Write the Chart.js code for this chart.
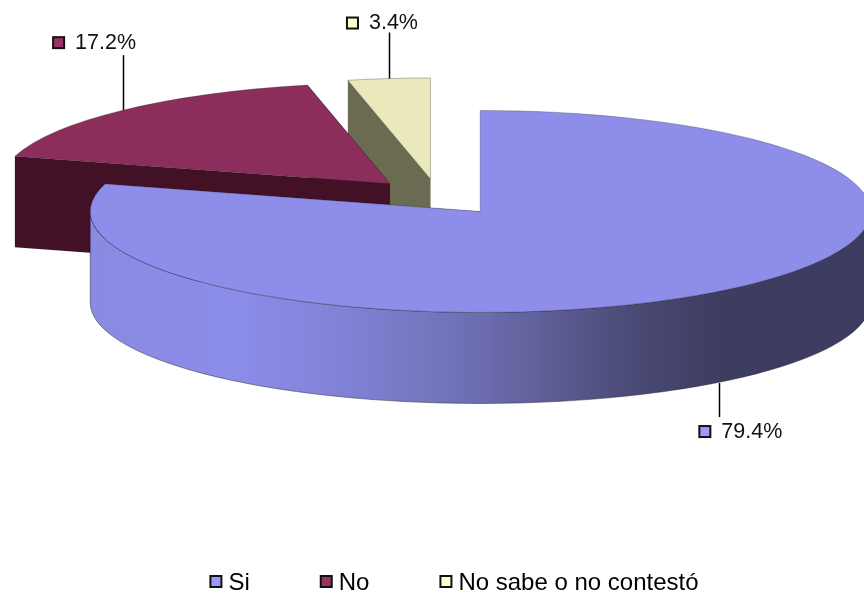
<!DOCTYPE html>
<html>
<head>
<meta charset="utf-8">
<style>
  html, body { margin: 0; padding: 0; background: #fff; }
  canvas { display: block; }
</style>
<script src="https://cdn.jsdelivr.net/npm/chart.js@4/dist/chart.umd.js"></script>
</head>
<body>
<canvas id="pie3d" width="864" height="595"></canvas>
<script>
var categories = ['Si', 'No', 'No sabe o no contestó'];
var percentages = [79.4, 17.2, 3.4];

var topColors = ['#8e8eea', '#8b2e5c', '#e9e9bb'];
var keyColors = ['#9999ff', '#993366', '#ffffcc'];
var wallColors = ['#8888e0', '#431126', '#6b6b52'];

// look of the tilted pie
var pieCenterX = 438;
var pieCenterY = 197;
var tilt = 0.259;
var depth = 91;
var explode = 70;
var fontName = '"Liberation Sans", Arial, sans-serif';

// leader length and where the text starts, relative to the leader end
var leaders = [
  { length: 34, dx: 4, textDx: 2, textDy: 15 },
  { length: 55, dx: 0, textDx: -48, textDy: -12 },
  { length: 46, dx: 0, textDx: -20, textDy: -9 }
];

function sliceCenter(arc) {
  var mid = (arc.startAngle + arc.endAngle) / 2;
  return {
    x: pieCenterX + explode * Math.cos(mid),
    y: pieCenterY + explode * Math.sin(mid) * tilt
  };
}

function drawWall(ctx, arc, fill) {
  var c = sliceCenter(arc);
  var rx = arc.outerRadius;
  var ry = rx * tilt;
  var x0 = c.x + rx * Math.cos(arc.startAngle);
  var y0 = c.y + ry * Math.sin(arc.startAngle);
  var x1 = c.x + rx * Math.cos(arc.endAngle);
  var y1 = c.y + ry * Math.sin(arc.endAngle);

  ctx.save();
  ctx.fillStyle = fill;
  ctx.strokeStyle = 'rgba(30, 30, 40, 0.6)';
  ctx.lineWidth = 0.8;

  // radial faces
  ctx.beginPath();
  ctx.moveTo(c.x, c.y);
  ctx.lineTo(x0, y0);
  ctx.lineTo(x0, y0 + depth);
  ctx.lineTo(c.x, c.y + depth);
  ctx.closePath();
  ctx.moveTo(c.x, c.y);
  ctx.lineTo(x1, y1);
  ctx.lineTo(x1, y1 + depth);
  ctx.lineTo(c.x, c.y + depth);
  ctx.closePath();
  ctx.fill();

  // outer band, only the part that faces the viewer
  var from = Math.max(arc.startAngle, 0);
  var to = Math.min(arc.endAngle, Math.PI);
  if (to > from) {
    ctx.beginPath();
    ctx.ellipse(c.x, c.y, rx, ry, 0, from, to);
    ctx.ellipse(c.x, c.y + depth, rx, ry, 0, to, from, true);
    ctx.closePath();
    ctx.fill();
    ctx.stroke();
  }
  ctx.restore();
}

function blueWallGradient(ctx) {
  var g = ctx.createLinearGradient(90, 0, 870, 0);
  g.addColorStop(0, '#8a8ae2');
  g.addColorStop(0.19, '#8c8cea');
  g.addColorStop(0.31, '#8283d8');
  g.addColorStop(0.42, '#7778c2');
  g.addColorStop(0.53, '#6868a8');
  g.addColorStop(0.63, '#565688');
  g.addColorStop(0.73, '#45456f');
  g.addColorStop(0.81, '#3d3d60');
  g.addColorStop(1, '#3c3c60');
  return g;
}

var pie3dPlugin = {
  id: 'pie3d',
  beforeDatasetDraw: function(chart, args) {
    var ctx = chart.ctx;
    var arcs = args.meta.data;
    // back slices first so the big one sits in front
    [2, 1, 0].forEach(function(i) {
      var arc = arcs[i];
      var c = sliceCenter(arc);
      drawWall(ctx, arc, i === 0 ? blueWallGradient(ctx) : wallColors[i]);
      ctx.save();
      ctx.translate(c.x, c.y);
      ctx.scale(1, tilt);
      ctx.translate(-arc.x, -arc.y);
      arc.draw(ctx);
      ctx.restore();
    });
    return false;
  },
  afterDatasetsDraw: function(chart) {
    var ctx = chart.ctx;
    var arcs = chart.getDatasetMeta(0).data;

    ctx.save();
    ctx.font = '21.5px ' + fontName;
    ctx.textBaseline = 'middle';
    arcs.forEach(function(arc, i) {
      var c = sliceCenter(arc);
      var mid = (arc.startAngle + arc.endAngle) / 2;
      var front = Math.sin(mid) > 0;
      var x = c.x + arc.outerRadius * Math.cos(mid) + leaders[i].dx;
      var y = c.y + arc.outerRadius * tilt * Math.sin(mid) + (front ? depth : 0);
      var endY = y + (front ? leaders[i].length : -leaders[i].length);

      ctx.strokeStyle = '#000';
      ctx.lineWidth = 1.5;
      ctx.beginPath();
      ctx.moveTo(Math.round(x) + 0.5, y);
      ctx.lineTo(Math.round(x) + 0.5, endY);
      ctx.stroke();

      var textX = x + leaders[i].textDx;
      var textY = endY + leaders[i].textDy;
      ctx.fillStyle = '#111';
      ctx.fillText(percentages[i].toFixed(1) + '%', textX, textY);
      drawKey(ctx, textX - 22, textY - 6, keyColors[i]);
    });
    ctx.restore();

    // legend keys sit right next to the text
    chart.legend.legendHitBoxes.forEach(function(box, i) {
      drawKey(ctx, box.left + 86 - 18, box.top + box.height / 2 - 7, keyColors[i]);
    });
  }
};

function drawKey(ctx, x, y, color) {
  ctx.save();
  ctx.fillStyle = color;
  ctx.strokeStyle = '#111';
  ctx.lineWidth = 2;
  ctx.fillRect(x, y, 11, 11);
  ctx.strokeRect(x, y, 11, 11);
  ctx.restore();
}

new Chart(document.getElementById('pie3d').getContext('2d'), {
  type: 'pie',
  data: {
    labels: categories,
    datasets: [{
      data: percentages,
      backgroundColor: topColors,
      borderColor: 'rgba(30, 30, 40, 0.6)',
      borderWidth: 0.8
    }]
  },
  options: {
    responsive: false,
    animation: false,
    radius: 390,
    layout: { padding: { right: 23, bottom: -10 } },
    plugins: {
      tooltip: { enabled: false },
      legend: {
        position: 'bottom',
        labels: {
          boxWidth: 74,
          boxHeight: 12,
          padding: 3,
          color: '#111',
          font: { family: fontName, size: 24 },
          generateLabels: function(chart) {
            return categories.map(function(name, i) {
              return { text: name, fillStyle: 'transparent', strokeStyle: 'transparent', lineWidth: 0, index: i, hidden: false };
            });
          }
        }
      }
    }
  },
  plugins: [pie3dPlugin]
});
</script>
</body>
</html>
